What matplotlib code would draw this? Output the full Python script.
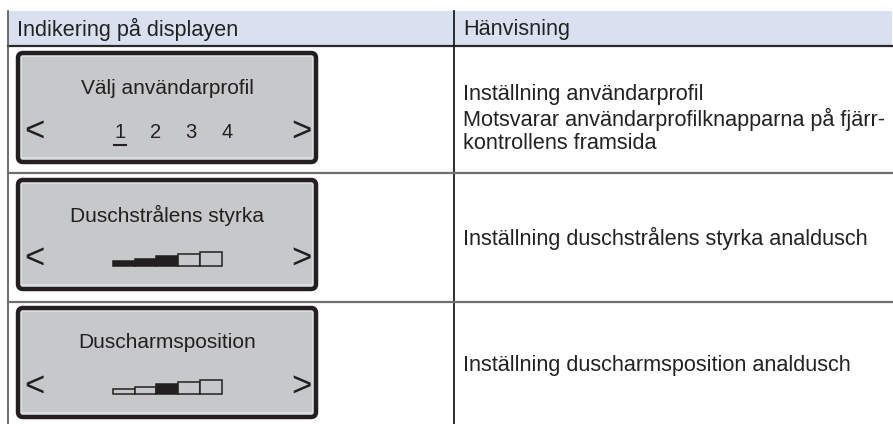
import matplotlib.pyplot as plt
from matplotlib.patches import FancyBboxPatch, Rectangle

plt.rcParams['font.family'] = ['Liberation Sans', 'DejaVu Sans']

# table content
headers = ["Indikering på displayen", "Hänvisning"]
panel_titles = ["Välj användarprofil", "Duschstrålens styrka", "Duscharmsposition"]
profiles = ["1", "2", "3", "4"]
selected_profile = "1"
bar_heights = [5, 7.5, 10, 12, 14]
strength_filled = [1, 1, 1, 0, 0]
position_filled = [0, 0, 1, 0, 0]
descriptions = [
    "Inställning användarprofil\nMotsvarar användarprofilknapparna på fjärr-\nkontrollens framsida",
    "Inställning duschstrålens styrka analdusch",
    "Inställning duscharmsposition analdusch",
]

W, H = 893, 424
fig = plt.figure(figsize=(W / 100, H / 100), dpi=100)
ax = fig.add_axes([0, 0, 1, 1])
ax.set_xlim(0, W)
ax.set_ylim(H, 0)
ax.axis('off')

body_fs = 15.6
ink = '#231f20'

# layout in pixels
x_left, x_mid, x_right = 8, 454, 892
head_top, head_bot = 11, 46
row_lines = [46, 173, 302, H]
panel_tops = [51, 178, 306]
panel_x0, panel_w, panel_h = 16, 302, 113

# header
ax.add_patch(Rectangle((x_left, head_top), x_right - x_left, head_bot - head_top,
                       facecolor='#d9e1f1', edgecolor='none'))
ax.text(17, 29, headers[0], fontsize=body_fs, va='center', ha='left', color='#222222')
ax.text(463, 29, headers[1], fontsize=body_fs, va='center', ha='left', color='#222222')
ax.plot([x_left, x_right], [head_bot, head_bot], color='#2a2a2a', lw=1.6)
ax.plot([x_left, x_left], [head_top, H], color='#555555', lw=1.2)
ax.plot([x_mid, x_mid], [head_top, H], color='#1e1e1e', lw=1.3)
for y in row_lines[1:3]:
    ax.plot([x_left, x_right], [y, y], color='#707070', lw=1.6)


def draw_panel(top):
    ax.add_patch(FancyBboxPatch((panel_x0 + 2, top + 2), panel_w - 4, panel_h - 4,
                                boxstyle='round,pad=0,rounding_size=5',
                                facecolor='#dcdddf', edgecolor=ink, lw=3.2))
    ax.add_patch(Rectangle((panel_x0 + 6, top + 6), panel_w - 12, panel_h - 13,
                           facecolor='#c7c8ca', edgecolor='none'))
    ax.text(34, top + 80, "<", fontsize=25, ha='center', va='center', color=ink)
    ax.text(301, top + 80, ">", fontsize=25, ha='center', va='center', color=ink)


def draw_bars(top, filled):
    base = top + 88
    xs = [113 + 21.7 * i for i in range(len(bar_heights))]
    colors = [ink if f else '#c7c8ca' for f in filled]
    ax.bar(xs, [-h for h in bar_heights], width=21.7, bottom=base, align='edge',
           color=colors, edgecolor=ink, linewidth=1.1)


for i, top in enumerate(panel_tops):
    draw_panel(top)
    ax.text(167, top + 37, panel_titles[i], fontsize=15, ha='center', va='center',
            color=ink)

# profile numbers
num_x = [120, 156, 191, 227]
for p, x in zip(profiles, num_x):
    ax.text(x, panel_tops[0] + 81, p, fontsize=14.5, ha='center', va='center', color=ink)
    if p == selected_profile:
        ax.plot([x - 6, x + 6], [panel_tops[0] + 94, panel_tops[0] + 94], color=ink, lw=1.5)

draw_bars(panel_tops[1], strength_filled)
draw_bars(panel_tops[2], position_filled)

# descriptions
ax.text(463, 119, descriptions[0], fontsize=body_fs, ha='left', va='center',
        linespacing=1.13, color='#222222')
ax.text(463, 238, descriptions[1], fontsize=body_fs, ha='left', va='center', color='#222222')
ax.text(463, 365, descriptions[2], fontsize=body_fs, ha='left', va='center', color='#222222')

fig.savefig('out.png', dpi=100)
